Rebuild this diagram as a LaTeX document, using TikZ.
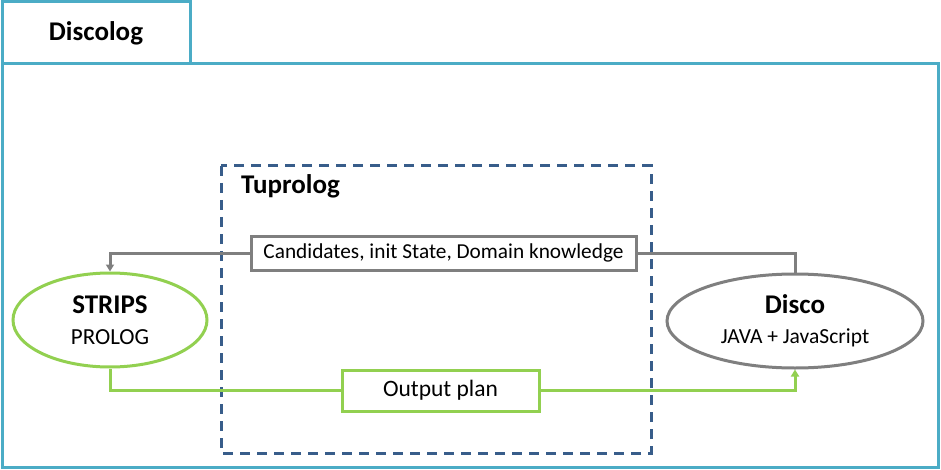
\documentclass[tikz,border=0pt]{standalone}
\usepackage{fontspec}
\setmainfont{Carlito}
\usetikzlibrary{
    arrows.meta,
    positioning,
    shapes.geometric
}
\definecolor{frameteal}{RGB}{75,172,198}
\definecolor{tupblue}{RGB}{56,93,138}
\definecolor{linegray}{RGB}{127,127,127}
\definecolor{linegreen}{RGB}{146,208,80}

\begin{document}
\begin{tikzpicture}[x=1pt, y=-1pt,
    framestyle/.style={line width=3pt, draw=frameteal},
    labelbox/.style={draw, line width=3pt, fill=white, inner sep=0pt},
    toolellipse/.style={ellipse, draw, line width=3pt, fill=white, align=center, inner sep=0pt},
    grayline/.style={line width=3pt, linegray},
    greenline/.style={line width=3pt, linegreen},
    tip/.style={-{Triangle[length=7pt, width=8pt]}}
]
    \useasboundingbox (0,0) rectangle (941,470);

    % Outer frame with the tab on top
    \draw[framestyle] (2,64) rectangle (938,467);
    \node[labelbox, draw=frameteal, minimum width=188pt, minimum height=62pt,
          font=\fontsize{27}{30}\selectfont\bfseries] (tab) at (96,33) {Discolog};

    % Tuprolog area
    \draw[line width=3pt, tupblue, dash pattern=on 10pt off 7pt] (221,166) rectangle (651,453);
    \node[anchor=west, inner sep=0pt, font=\fontsize{27}{30}\selectfont\bfseries] (tuprolog) at (241,186) {Tuprolog};

    % The two systems
    \node[toolellipse, draw=linegreen, minimum width=194pt, minimum height=94pt,
          font=\fontsize{23}{31}\selectfont]
        (strips) at (110,320) {{\fontsize{27}{31}\selectfont\bfseries STRIPS}\\
                               PROLOG};
    \node[toolellipse, draw=linegray, minimum width=256pt, minimum height=94pt,
          font=\fontsize{21.5}{30}\selectfont]
        (disco) at (795,321) {{\fontsize{27}{30}\selectfont\bfseries Disco}\\
                              JAVA + JavaScript};

    % Exchanged data
    \node[labelbox, draw=linegray, minimum width=385pt, minimum height=34pt,
          font=\fontsize{21.3}{24}\selectfont] (cand) at (443.5,253) {Candidates, init State, Domain knowledge};
    \node[labelbox, draw=linegreen, minimum width=197pt, minimum height=41pt,
          font=\fontsize{23.5}{26}\selectfont] (plan) at (440.5,390.5) {Output plan};

    % Connectors
    \draw[grayline, tip] (cand.west) -| (strips.north);
    \draw[grayline] (cand.east) -| (disco.north);
    \draw[greenline] (strips.south) |- (plan.west);
    \draw[greenline, tip] (plan.east) -| (disco.south);

\end{tikzpicture}
\end{document}
